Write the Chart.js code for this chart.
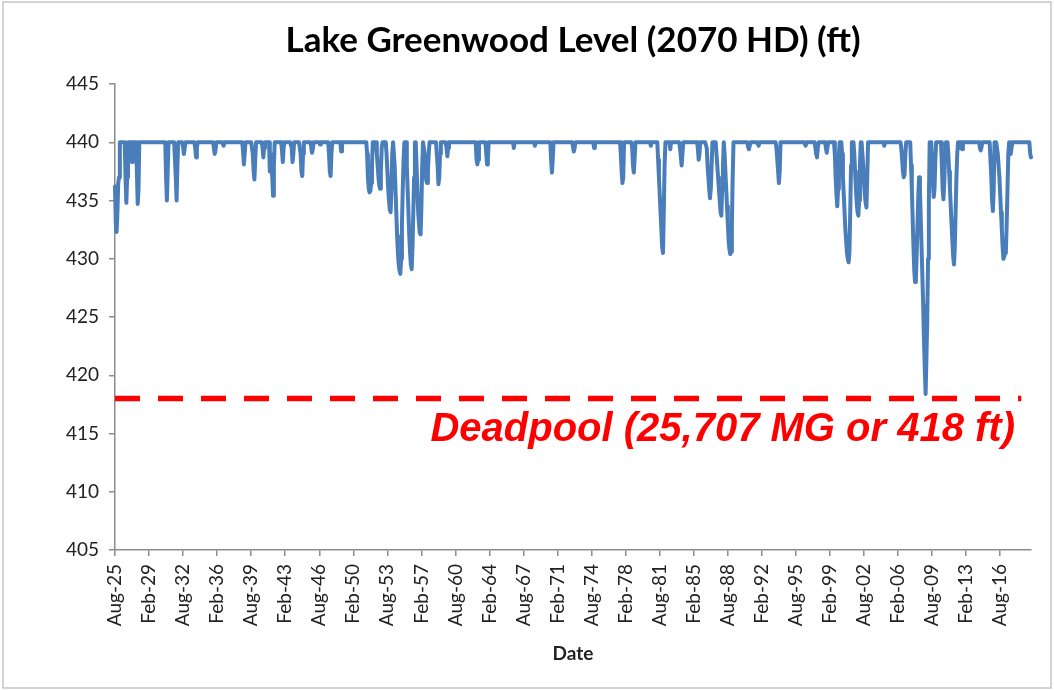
<!DOCTYPE html>
<html>
<head>
<meta charset="utf-8">
<title>Lake Greenwood Level</title>
<script src="https://cdn.jsdelivr.net/npm/chart.js@4.4.0/dist/chart.umd.min.js"></script>
<style>
  html, body { margin: 0; padding: 0; background: #fff; }
  canvas { display: block; }
</style>
</head>
<body>
<canvas id="levelChart" width="1054" height="690"></canvas>
<script>
// monthly lake level (ft), Aug 1925 onwards, one line = 12 months (Aug..Jul)
const level = [
  436.2,433,432.3,434,436.5,437,440,440,440,440,440,440,
  440,437,434.8,437,440,440,440,440,440,438.3,440,440,
  440,440,440,437.5,434.7,436,440,440,440,440,440,440,
  440,440,440,440,440,440,440,440,440,440,440,440,
  440,440,440,440,440,440,440,440,440,440,440,440,
  440,440,440,437,435,437.5,440,440,440,440,440,440,
  440,440,440,437,435,438,440,440,440,440,440,440,
  439.6,439,439.5,440,440,440,440,440,440,440,440,440,
  440,440,440,439.5,438.7,439.5,440,440,440,440,440,440,
  440,440,440,440,440,440,440,440,440,440,440,440,
  440,440,440,439,439.3,440,440,440,440,440,440,440,
  440,440,439.7,440,440,440,440,440,440,440,440,440,
  440,440,440,440,440,440,440,440,440,440,440,440,
  440,440,439.2,438.1,439,440,440,440,440,440,440,440,
  440,440,439,437.5,436.8,438.5,440,440,440,440,440,440,
  440,440,439.5,438.7,439.5,440,440,440,440,440,440,437.5,
  439,438,437,435.4,438,440,440,440,440,440,440,440,
  440,440,439.3,438.3,439.5,440,440,440,440,440,440,440,
  440,440,439.5,438.3,439,440,440,440,440,440,440,440,
  440,439,437.5,437.1,439,440,440,440,440,440,440,440,
  440,440,439.6,439.1,439.4,440,440,440,440,440,440,440,
  440,439.8,440,440,440,440,440,440,440,440,440,440,
  439,437.5,437.1,439,440,440,440,440,440,440,440,440,
  440,440,440,439.2,440,440,440,440,440,440,440,440,
  440,440,440,440,440,440,440,440,440,440,440,440,
  440,440,440,440,440,440,440,440,440,440,440,439,
  437,436,435.7,435.8,436.5,438,440,440,440,440,440,439,
  438,437,436.3,436,437.5,439.5,440,440,440,440,440,439,
  437.5,436,435,434.2,434,436,439,440,440,438,436,434,
  432,430.5,429.5,429,428.7,430,433,436,438.5,440,440,440,
  438,436,434,432,430.5,429.5,429.1,431,434,437,440,440,
  438,436,434,433,432.2,432.1,434.5,438,440,440,439,437.5,
  436.7,436.5,437.5,439,440,440,440,440,440,440,440,440,
  440,440,438,436.4,437,439,440,440,440,440,440,440,
  440,439.5,438.8,439.5,440,440,440,440,440,440,440,440,
  440,440,440,440,440,440,440,440,440,440,440,440,
  440,440,440,440,440,440,440,440,440,440,440,440,
  440,440,438.5,438.1,438.5,440,440,440,440,440,440,440,
  440,440,439,438.1,438.5,440,440,440,440,440,440,440,
  440,440,440,440,440,440,440,440,440,440,440,440,
  440,440,440,440,440,440,440,440,440,440,440,440,
  439.5,440,440,440,440,440,440,440,440,440,440,440,
  440,440,440,440,440,440,440,440,440,440,440,440,
  440,440,439.7,440,440,440,440,440,440,440,440,440,
  440,440,440,440,440,440,440,440,440,440,438.5,437.4,
  438.5,440,440,440,440,440,440,440,440,440,440,440,
  440,440,440,440,440,440,440,440,440,440,440,440,
  440,439.6,439.2,439.5,440,440,440,440,440,440,440,440,
  440,440,440,440,440,440,440,440,440,440,440,440,
  440,440,440,439.5,440,440,440,440,440,440,440,440,
  440,440,440,440,440,440,440,440,440,440,440,440,
  440,440,440,440,440,440,440,440,440,440,440,440,
  439,437.5,436.5,437,440,440,440,440,440,440,440,440,
  440,440,439.5,438,437.4,438.5,440,440,440,440,440,440,
  440,440,440,440,440,440,440,440,440,440,440,440,
  440,439.7,440,440,440,440,440,440,440,440,438.5,437,
  435.5,434,432.5,431,430.5,434,438,440,440,440,440,440,
  440,439.4,440,440,440,440,440,440,440,440,440,440,
  440,439.5,438.8,438,439,440,440,440,440,440,440,440,
  440,440,440,440,440,440,440,440,440,440,440,439.5,
  438.5,439,440,440,440,440,440,440,440,440,439.5,438,
  437,436,435.2,436,438,440,440,440,440,440,439,438,
  437,436,435,434,433.7,436,438,440,439,437.5,436,434.5,
  433,431.5,430.8,430.4,430.6,433,437,440,440,440,440,440,
  440,440,440,440,440,440,440,440,440,440,440,440,
  440,439.6,439.4,439.7,440,440,440,440,440,440,440,440,
  440,440,439.7,440,440,440,440,440,440,440,440,440,
  440,440,440,440,440,440,440,440,440,440,440,440,
  439.5,438.5,437.5,436.5,437.5,440,440,440,440,440,440,440,
  440,440,440,440,440,440,440,440,440,440,440,440,
  440,440,440,440,440,440,440,440,440,440,440,440,
  439.7,440,440,440,440,440,440,440,440,440,440,440,
  439.5,439,438.7,439.5,440,440,440,440,440,440,440,440,
  440,439.5,439.1,439.6,440,440,440,440,440,440,440,440,
  439,437,435.5,434.5,436,439,440,440,440,439,437,435.5,
  434,432.5,431.5,430.5,430,429.7,430.5,434,438,440,440,440,
  439,437.5,436,434.8,434,433.7,435,438,440,440,439,438,
  436.5,435.5,434.8,434.4,437,440,440,440,440,440,440,440,
  440,440,440,440,440,440,440,440,440,440,440,440,
  440,439.7,440,440,440,440,440,440,440,440,440,440,
  440,440,440,440,440,440,440,440,440,440,439.5,438.5,
  437.5,437,437.2,439,440,440,440,440,440,440,438,436,
  433.5,431,429,428,428.2,430.5,433,435.5,437,436,433.5,431,
  428.5,426,423,420.5,418.4,421.5,424.8,430,435,440,440,440,
  438,436.5,435.3,436,438.5,440,440,440,440,440,440,440,
  438,436,435.1,436.5,439,440,440,440,439,437.5,436,434.5,
  433,431.5,430.2,429.5,431,434,437,439,440,440,440,439.5,
  440,439.4,440,440,440,440,440,440,440,440,440,440,
  440,440,440,440,440,440,440,440,440,440,440,439.5,
  439.3,439.6,440,440,440,440,440,440,440,440,440,440,
  438.5,437,435,434.1,436,440,440,440,440,439,438,437,
  435.5,434,432.5,431,430,430.2,430.5,430.6,433,436,439,440,
  439.5,439,439.5,440,440,440,440,440,440,440,440,440,
  440,440,440,440,440,440,440,440,440,440,440,440,
  440,439,438.7
];

const monthNames = ["Jan", "Feb", "Mar", "Apr", "May", "Jun", "Jul", "Aug", "Sep", "Oct", "Nov", "Dec"];
const startYear = 1925;
const startMonth = 7; // Aug
const tickEvery = 42; // one label every 3.5 years

const yTicks = [405, 410, 415, 420, 425, 430, 435, 440, 445];

const deadpool = 418;
const deadpoolEnd = 1118; // last month the dashed line reaches
const deadpoolLabel = "Deadpool (25,707 MG or 418 ft)";

// category labels like "Aug-25"
const dates = level.map((_, i) => {
  const m = (startMonth + i) % 12;
  const y = startYear + Math.floor((startMonth + i) / 12);
  return monthNames[m] + "-" + String(y % 100).padStart(2, "0");
});
const deadpoolLine = dates.map((_, i) => (i <= deadpoolEnd ? deadpool : null));

const tickFont = { family: "Lato", size: 19 };
const axisGray = "#8c8c8c";

// white page + frame, then the red deadpool caption
const decorations = {
  id: "decorations",
  beforeDraw(chart) {
    const ctx = chart.ctx;
    ctx.save();
    ctx.fillStyle = "#fff";
    ctx.fillRect(0, 0, chart.width, chart.height);
    ctx.strokeStyle = "#c6c6c6";
    ctx.lineWidth = 1.5;
    ctx.strokeRect(3, 2, chart.width - 6, chart.height - 4);
    ctx.restore();
  },
  afterDraw(chart) {
    const { ctx, chartArea, scales } = chart;
    const y = scales.y.getPixelForValue(deadpool);
    ctx.save();
    ctx.font = 'italic bold 40px "Liberation Sans"';
    ctx.fillStyle = "#ff0000";
    ctx.textAlign = "right";
    ctx.textBaseline = "alphabetic";
    ctx.fillText(deadpoolLabel, chartArea.right - 16, y + 42);
    ctx.restore();
  }
};

new Chart(document.getElementById("levelChart"), {
  type: "line",
  data: {
    labels: dates,
    datasets: [
      {
        label: "Deadpool",
        data: deadpoolLine,
        borderColor: "#ff0000",
        borderWidth: 5.5,
        borderDash: [25, 18],
        pointRadius: 0,
        spanGaps: false,
        order: 0
      },
      {
        label: "Lake Greenwood Level",
        data: level,
        borderColor: "#4a7ebb",
        borderWidth: 4,
        borderJoinStyle: "round",
        borderCapStyle: "round",
        pointRadius: 0,
        tension: 0,
        order: 1
      }
    ]
  },
  options: {
    responsive: false,
    animation: false,
    devicePixelRatio: 1,
    layout: { padding: { left: 0, right: 23, top: 6, bottom: 5 } },
    plugins: {
      legend: { display: false },
      tooltip: { enabled: false },
      title: {
        display: true,
        text: "Lake Greenwood Level (2070 HD) (ft)",
        fullSize: false,
        color: "#000",
        font: { family: "Lato", size: 35, weight: "bold" },
        padding: { top: 14, bottom: 22 }
      }
    },
    scales: {
      x: {
        type: "category",
        afterBuildTicks: (axis) => {
          axis.ticks = axis.ticks.filter((t) => t.value % tickEvery === 0);
        },
        afterFit: (axis) => { axis.height = 135; },
        ticks: {
          autoSkip: false,
          minRotation: 90,
          maxRotation: 90,
          padding: 8,
          color: "#222",
          font: tickFont
        },
        grid: { drawOnChartArea: false, color: axisGray, lineWidth: 1.5, tickLength: 6 },
        border: { color: axisGray, width: 1.5 },
        title: {
          display: true,
          text: "Date",
          color: "#222",
          font: { family: "Lato", size: 19, weight: "bold" },
          padding: { top: 4, bottom: 20 }
        }
      },
      y: {
        min: yTicks[0],
        max: yTicks[yTicks.length - 1],
        afterFit: (axis) => { axis.width = 115; },
        afterBuildTicks: (axis) => {
          axis.ticks = yTicks.map((v) => ({ value: v }));
        },
        ticks: { padding: 10, color: "#222", font: tickFont },
        grid: { drawOnChartArea: false, color: axisGray, lineWidth: 1.5, tickLength: 6 },
        border: { color: axisGray, width: 1.5 }
      }
    }
  },
  plugins: [decorations]
});
</script>
</body>
</html>
